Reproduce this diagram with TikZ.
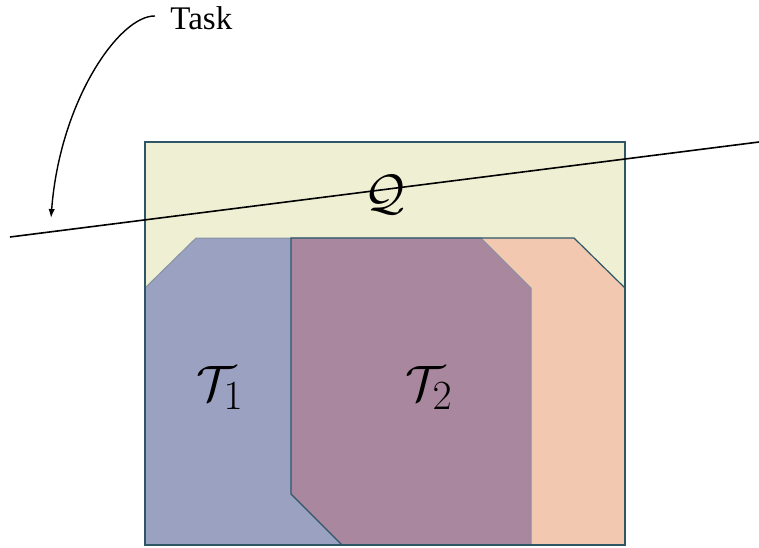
\documentclass[tikz,border=0pt]{standalone}
\usepackage{fontspec}
\setmainfont{Liberation Serif}
\usetikzlibrary{arrows.meta}
\definecolor{ink}{HTML}{000000}
\definecolor{frameTeal}{HTML}{2F5667}
\definecolor{queryFill}{HTML}{EFF0D3}
\definecolor{taskOneFill}{HTML}{9BA1C1}
\definecolor{taskTwoFill}{HTML}{F2C9B0}
\definecolor{overlapFill}{HTML}{A9889F}
\definecolor{edgeGrey}{HTML}{8593A3}
\tikzset{
  region/.style={line width=0.6pt,line join=miter},
  frame/.style={region,draw=frameTeal},
  softedge/.style={region,draw=edgeGrey,line width=0.5pt},
  cut/.style={draw=ink,line width=0.8pt},
  pointer/.style={-{Latex[length=4.5pt,width=3.2pt]},draw=ink,line width=0.7pt},
  label/.style={inner sep=0pt,text=ink}
}

\begin{document}
\begin{tikzpicture}[x=0.5pt,y=-0.5pt]
  \useasboundingbox (0,0) rectangle (759,547);

  % query box and the two task regions
  \fill[queryFill] (145,142) rectangle (625,545);
  \fill[taskOneFill] (145,288) -- (196,238) -- (481,238) -- (531,288)
    -- (531,545) -- (145,545) -- cycle;
  \fill[taskTwoFill] (291,238) -- (574,238) -- (625,288) -- (625,545)
    -- (342,545) -- (291,494) -- cycle;
  \fill[overlapFill] (291,238) -- (481,238) -- (531,288) -- (531,545)
    -- (342,545) -- (291,494) -- cycle;
  \draw[softedge] (145,288) -- (196,238) -- (481,238) -- (531,288)
    -- (531,545);
  \draw[frame] (342,545) -- (291,494) -- (291,238) -- (574,238)
    -- (625,288);
  \draw[frame] (145,142) rectangle (625,545);

  \node[label,font=\fontsize{23}{23}\selectfont] (query) at (385,195) {$\mathcal{Q}$};
  \node[label,font=\fontsize{30}{30}\selectfont] (taskOne) at (220,388) {$\mathcal{T}_1$};
  \node[label,font=\fontsize{30}{30}\selectfont] (taskTwo) at (429,388) {$\mathcal{T}_2$};

  % the task cut and its label
  \coordinate (cutLeft) at (10,237);
  \coordinate (cutRight) at (759,142);
  \draw[cut] (cutLeft) -- (cutRight);
  \node[label,anchor=west,font=\fontsize{16.5}{16.5}\selectfont] (task) at (170,18) {Task};
  \coordinate (taskTip) at (51,218);
  \draw[pointer] ([xshift=-7.5pt,yshift=1pt]task.west) .. controls (120,15) and (60,100) .. (taskTip);
\end{tikzpicture}
\end{document}
